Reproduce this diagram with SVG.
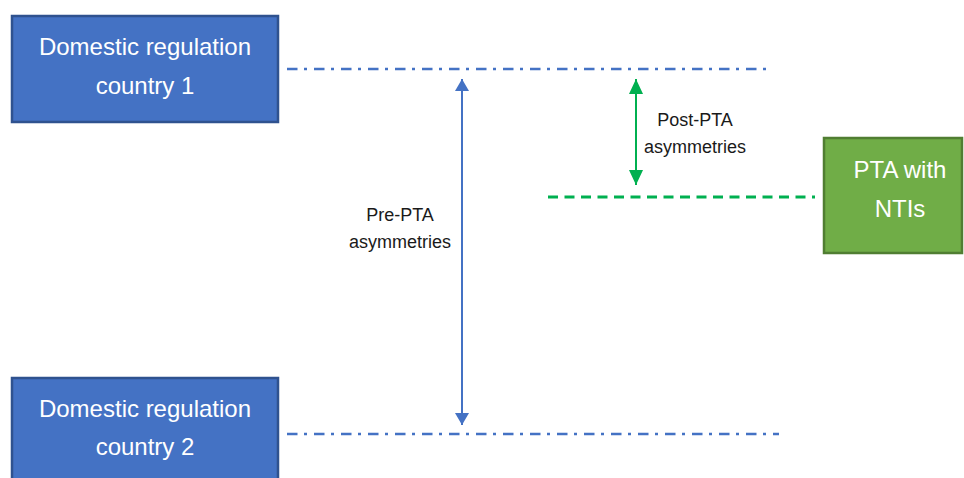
<svg xmlns="http://www.w3.org/2000/svg" width="964" height="478" viewBox="0 0 964 478">
<style>
.bbox{fill:#4472C4;stroke:#2F528F;stroke-width:2.5}
.gbox{fill:#70AD47;stroke:#507E32;stroke-width:2.5}
.bt{font-family:"Liberation Sans",Arial,sans-serif;font-size:24px;fill:#FFFFFF;text-anchor:middle}
.lt{font-family:"Liberation Sans",Arial,sans-serif;font-size:18px;fill:#1a1a1a;text-anchor:middle}
.dd{fill:none;stroke:#4472C4;stroke-width:2.5;stroke-dasharray:10.5 6.5 3 7}
.gd{fill:none;stroke:#00B050;stroke-width:3;stroke-dasharray:10 6.5}
</style>
<defs>
<marker id="ab" markerUnits="userSpaceOnUse" markerWidth="14" markerHeight="14" refX="12" refY="7" orient="auto-start-reverse" viewBox="0 0 14 14">
<path d="M0,0 L12,7 L0,14 Z" fill="#4472C4"/>
</marker>
<marker id="ag" markerUnits="userSpaceOnUse" markerWidth="16" markerHeight="16" refX="15" refY="8" orient="auto-start-reverse" viewBox="0 0 16 16">
<path d="M0,1 L15,8 L0,15 Z" fill="#00B050"/>
</marker>
</defs>
<g id="country1">
<rect class="bbox" x="12" y="16" width="266" height="106"/>
<text class="bt" x="145" y="55">Domestic regulation</text>
<text class="bt" x="145" y="94">country 1</text>
</g>
<g id="country2">
<rect class="bbox" x="12" y="378" width="266" height="110"/>
<text class="bt" x="145" y="417">Domestic regulation</text>
<text class="bt" x="145" y="455">country 2</text>
</g>
<g id="pta">
<rect class="gbox" x="824" y="138" width="138" height="115"/>
<text class="bt" x="900" y="178">PTA with</text>
<text class="bt" x="900" y="217">NTIs</text>
</g>
<g id="connectors">
<line class="dd" x1="287" y1="69" x2="766" y2="69"/>
<line class="dd" x1="287" y1="434" x2="779" y2="434"/>
<line class="gd" x1="548" y1="197" x2="815" y2="197"/>
<line x1="462" y1="79" x2="462" y2="425" stroke="#4472C4" stroke-width="2" marker-start="url(#ab)" marker-end="url(#ab)"/>
<line x1="636" y1="79" x2="636" y2="185" stroke="#00B050" stroke-width="2" marker-start="url(#ag)" marker-end="url(#ag)"/>
</g>
<g id="labels">
<text class="lt" x="695" y="126">Post-PTA</text>
<text class="lt" x="695" y="153">asymmetries</text>
<text class="lt" x="400" y="221">Pre-PTA</text>
<text class="lt" x="400" y="248">asymmetries</text>
</g>
</svg>
